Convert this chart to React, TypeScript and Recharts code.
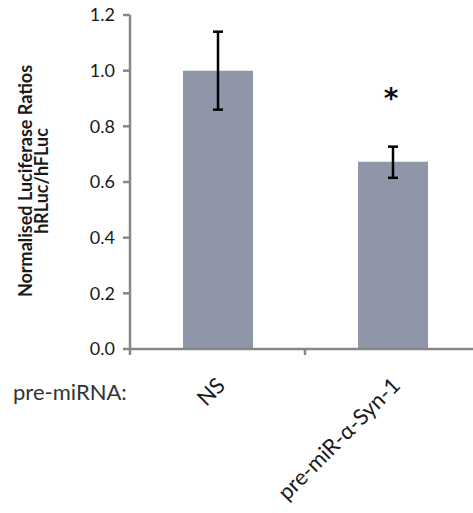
import React from "react";
import {
  BarChart,
  Bar,
  XAxis,
  YAxis,
  ErrorBar,
  LabelList,
} from "recharts";

// Luciferase reporter assay: normalised hRLuc/hFLuc ratios per pre-miRNA
const categories = ["NS", "pre-miR-α-Syn-1"];
const ratios = [1.0, 0.673];
const errLow = [0.14, 0.058];
const errHigh = [0.14, 0.054];
const significance = ["", "*"];
const yTicks = [0, 0.2, 0.4, 0.6, 0.8, 1.0, 1.2];

// each category occupies one unit on a numeric x axis; bars sit at the slot centres
const data = categories.map((name, i) => ({
  name,
  pos: i + 0.5,
  ratio: ratios[i],
  err: [errLow[i], errHigh[i]],
  sig: significance[i],
}));
const xTicks = [0, 0.5, 1, 1.5, 2];

const FONT = "Lato, 'Open Sans', sans-serif";
const AXIS_GREY = "#878787";
const BAR_FILL = "#8f96a8";

// boundary ticks at whole numbers, category names at slot centres
const CategoryTick = (props: any) => {
  const { x, y, payload } = props;
  const v = payload.value as number;
  if (Number.isInteger(v)) {
    return (
      <line x1={x} y1={y} x2={x} y2={y + 6} stroke={AXIS_GREY} strokeWidth={2.5} />
    );
  }
  const label = categories[Math.floor(v)];
  return (
    <g transform={`translate(${x + 9},${y + 38})`}>
      <text
        transform="rotate(-45)"
        textAnchor="end"
        fontFamily={FONT}
        fontSize={22}
        fill="#1a1a1a"
      >
        {label}
      </text>
    </g>
  );
};

const StarLabel = (props: any) => {
  const { x, y, width, value } = props;
  if (!value) return null;
  return (
    <text
      x={x + width / 2 - 2}
      y={y - 54}
      textAnchor="middle"
      fontFamily="'DejaVu Sans', sans-serif"
      fontWeight="bold"
      fontSize={28}
      fill="#111"
    >
      {value}
    </text>
  );
};

const YTitle = (props: any) => {
  const { viewBox } = props;
  const cy = viewBox.y + viewBox.height / 2 - 1;
  return (
    <g>
      <text
        transform={`translate(32,${cy}) rotate(-90)`}
        textAnchor="middle"
        fontFamily={FONT}
        fontWeight="bold"
        fontSize={18}
        fill="#1a1a1a"
      >
        Normalised Luciferase Ratios
      </text>
      <text
        transform={`translate(48,${cy}) rotate(-90)`}
        textAnchor="middle"
        fontFamily={FONT}
        fontWeight="bold"
        fontSize={18}
        fill="#1a1a1a"
      >
        hRLuc/hFLuc
      </text>
    </g>
  );
};

export default function App() {
  return (
    <div
      style={{
        position: "absolute",
        left: 0,
        top: 0,
        width: 473,
        height: 513,
        overflow: "hidden",
        background: "#fff",
      }}
    >
      <BarChart
        width={490}
        height={513}
        data={data}
        margin={{ top: 15, right: 10, bottom: 0, left: 0 }}
      >
        <XAxis
          dataKey="pos"
          type="number"
          domain={[0, 2]}
          ticks={xTicks}
          interval={0}
          height={164}
          tickSize={0}
          tickMargin={0}
          tickLine={false}
          axisLine={{ stroke: AXIS_GREY, strokeWidth: 2.5 }}
          tick={<CategoryTick />}
        />
        <YAxis
          width={130}
          domain={[0, 1.2]}
          ticks={yTicks}
          tickFormatter={(v: number) => v.toFixed(1)}
          tickSize={7}
          tickMargin={8}
          tick={{ fontFamily: FONT, fontSize: 18, fill: "#1a1a1a" }}
          axisLine={{ stroke: AXIS_GREY, strokeWidth: 2.5 }}
          tickLine={{ stroke: AXIS_GREY, strokeWidth: 2.5 }}
          label={<YTitle />}
        />
        <Bar dataKey="ratio" fill={BAR_FILL} barSize={70} isAnimationActive={false}>
          <ErrorBar
            dataKey="err"
            width={5}
            stroke="#000"
            strokeWidth={2.5}
            isAnimationActive={false}
          />
          <LabelList dataKey="sig" content={<StarLabel />} />
        </Bar>
      </BarChart>
      <div
        style={{
          position: "absolute",
          left: 13,
          top: 378,
          fontFamily: FONT,
          fontSize: 22,
          color: "#333",
        }}
      >
        pre-miRNA:
      </div>
    </div>
  );
}
